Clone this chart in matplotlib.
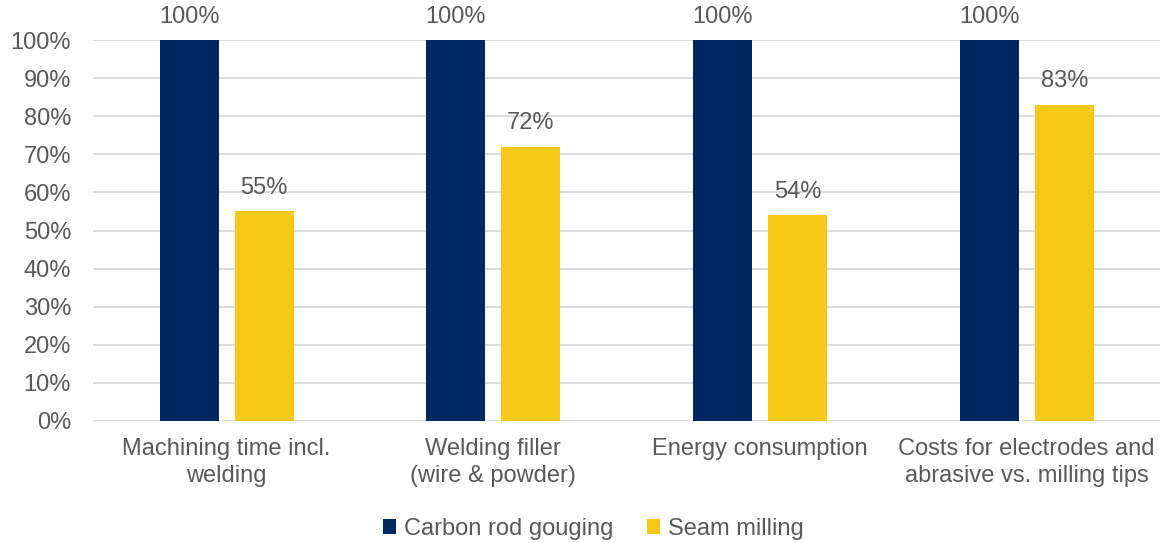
import numpy as np
import matplotlib.pyplot as plt
from matplotlib.ticker import PercentFormatter

plt.rcParams['font.family'] = ['Liberation Sans', 'DejaVu Sans']

categories = ["Machining time incl.\nwelding", "Welding filler\n(wire & powder)",
              "Energy consumption", "Costs for electrodes and\nabrasive vs. milling tips"]
gouging = [100, 100, 100, 100]
milling = [55, 72, 54, 83]

navy = "#002a5f"
yellow = "#f7c815"
grey_txt = "#595959"
fs = 17

fig = plt.figure(figsize=(11.73, 5.43), dpi=100)
ax = fig.add_axes([0.0795, 0.2247, 0.9095, 0.7016])

x = np.arange(len(categories))
w = 0.221
off = 0.1407
b1 = ax.bar(x - off, gouging, w, color=navy, label="Carbon rod gouging", zorder=3)
b2 = ax.bar(x + off, milling, w, color=yellow, label="Seam milling", zorder=3)

for bars, vals in ((b1, gouging), (b2, milling)):
    for r, v in zip(bars, vals):
        ax.annotate(f"{v}%", (r.get_x() + r.get_width() / 2, v), xytext=(0, 9),
                    textcoords="offset points", ha="center", va="bottom",
                    fontsize=fs, color=grey_txt, annotation_clip=False)

ax.set_xlim(-0.5, len(categories) - 0.5)
ax.set_ylim(0, 100)
ax.set_yticks(np.arange(0, 101, 10))
ax.yaxis.set_major_formatter(PercentFormatter(decimals=0))
ax.set_xticks(x)
ax.set_xticklabels(categories, linespacing=1.3)
ax.tick_params(axis="both", length=0, labelsize=fs, labelcolor=grey_txt)
ax.tick_params(axis="x", pad=12)
ax.tick_params(axis="y", pad=16)
ax.grid(axis="y", color="#d9d9d9", linewidth=1.3, zorder=0)
for s in ax.spines.values():
    s.set_visible(False)

fig.legend(loc="center", bbox_to_anchor=(0.506, 0.026), ncol=2, frameon=False,
           fontsize=fs, labelcolor=grey_txt, handlelength=0.55, handleheight=0.55,
           handletextpad=0.35, columnspacing=1.4)

fig.savefig("out.png", dpi=100)
